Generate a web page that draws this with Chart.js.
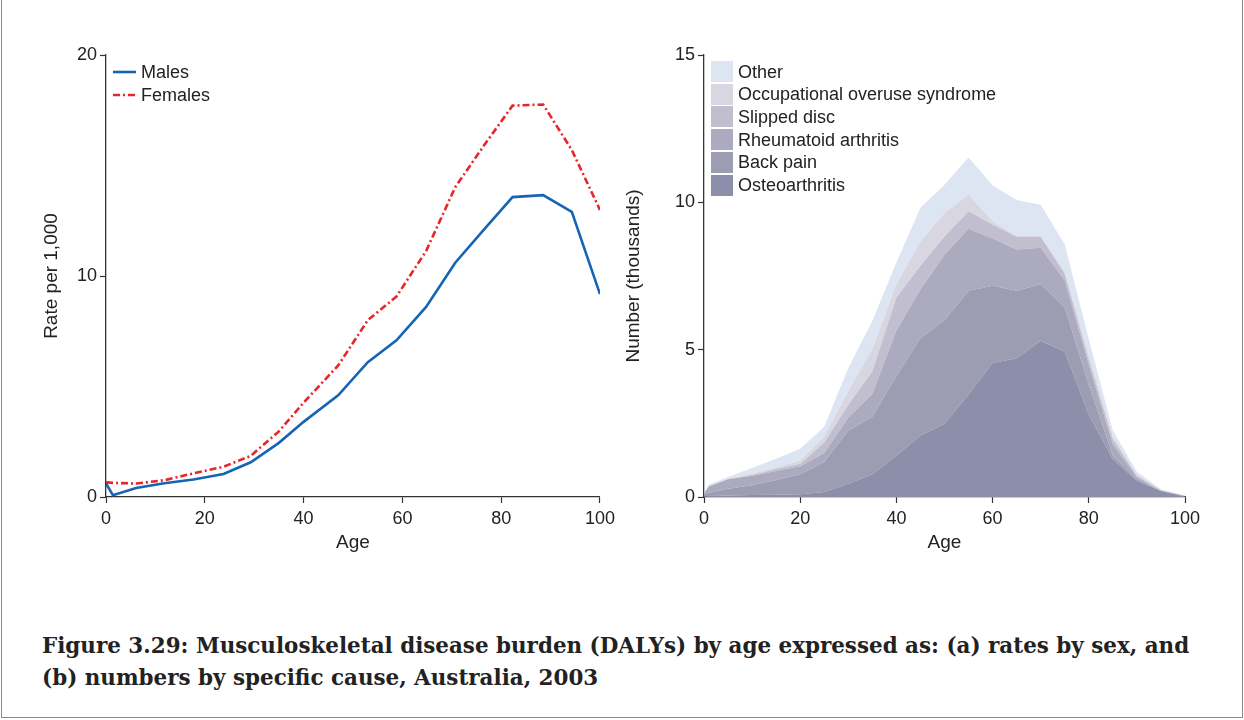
<!DOCTYPE html>
<html>
<head>
<meta charset="utf-8">
<script src="https://cdn.jsdelivr.net/npm/chart.js@4.4.1/dist/chart.umd.min.js"></script>
<style>
  body { margin: 0; background: #fff; }
  #page { position: relative; width: 1244px; height: 720px; overflow: hidden; font-family: "Liberation Sans", Arial, sans-serif; color: #222; }
  #frame { position: absolute; left: 1px; top: -2px; width: 1240px; height: 718px; border: 1px solid #8a8a8a; }
  canvas { position: absolute; top: 0; }
  .leg { position: absolute; font-size: 18px; line-height: 22px; color: #222; white-space: nowrap; }
  .sw { position: absolute; width: 22px; height: 21px; }
  #caption { position: absolute; left: 42px; top: 630px; font-family: "DejaVu Serif", "Liberation Serif", serif; font-weight: bold; font-size: 21px; line-height: 32px; color: #222; white-space: nowrap; }
</style>
</head>
<body>
<div id="page">
  <div id="frame"></div>
  <canvas id="rateChart" width="620" height="560" style="left:0"></canvas>
  <canvas id="causeChart" width="624" height="560" style="left:620px"></canvas>

  <svg style="position:absolute;left:112px;top:62px" width="26" height="40">
    <line x1="1" y1="10" x2="24" y2="10" stroke="#1664b4" stroke-width="2.6"/>
    <line x1="1" y1="33" x2="24" y2="33" stroke="#e8262a" stroke-width="2.6" stroke-dasharray="7,3,2,3"/>
  </svg>
  <div class="leg" style="left:141px;top:61px">Males</div>
  <div class="leg" style="left:141px;top:84px">Females</div>

  <div id="causeLegend"></div>

  <div id="caption"><span id="capLine1">Figure 3.29: Musculoskeletal disease burden (DALYs) by age expressed as: (a) rates by sex, and</span><br>(b) numbers by specific cause, Australia, 2003</div>
</div>
<script>
// (a) rates per 1,000 by sex
const rateAges = [0, 1.4, 6.1, 11.8, 17.7, 23.8, 29.3, 35, 40, 47, 53, 58.8, 64.8, 70.7, 76.5, 82.3, 88.5, 94.3, 100];
const males    = [0.61, 0.08, 0.41, 0.62, 0.79, 1.04, 1.57, 2.45, 3.4, 4.6, 6.1, 7.09, 8.6, 10.6, 12.1, 13.57, 13.66, 12.9, 9.18];
const females  = [0.66, 0.64, 0.61, 0.76, 1.07, 1.37, 1.86, 2.97, 4.27, 5.95, 8.0, 9.07, 11.13, 14.02, 15.9, 17.71, 17.76, 15.7, 12.99];

// (b) numbers (thousands) by cause, stacked
const causeAges      = [0, 1, 5, 10, 15, 20, 25, 30, 35, 40, 45, 50, 55, 60, 65, 70, 75, 80, 85, 90, 95, 100];
const osteoarthritis = [0.02, 0.03, 0.05, 0.07, 0.08, 0.09, 0.17, 0.45, 0.77, 1.40, 2.09, 2.49, 3.49, 4.55, 4.71, 5.30, 4.93, 2.80, 1.28, 0.55, 0.20, 0.02];
const backPain       = [0.08, 0.11, 0.23, 0.33, 0.50, 0.68, 1.02, 1.80, 1.95, 2.70, 3.31, 3.51, 3.51, 2.62, 2.29, 1.92, 1.49, 1.00, 0.12, 0.05, 0.01, 0.01];
const rheumatoid     = [0.02, 0.22, 0.32, 0.32, 0.30, 0.27, 0.30, 0.45, 0.78, 1.55, 1.65, 2.22, 2.10, 1.60, 1.40, 1.24, 0.93, 0.70, 0.39, 0.07, 0.01, 0.00];
const slippedDisc    = [0.01, 0.01, 0.01, 0.03, 0.07, 0.09, 0.36, 0.43, 0.77, 1.12, 0.80, 0.62, 0.60, 0.48, 0.43, 0.37, 0.23, 0.15, 0.16, 0.04, 0.01, 0.00];
const occupational   = [0.01, 0.01, 0.01, 0.05, 0.05, 0.11, 0.20, 0.47, 0.76, 0.45, 0.82, 0.80, 0.56, 0.12, 0.03, 0.03, 0.07, 0.15, 0.10, 0.05, 0.02, 0.01];
const other          = [0.01, 0.04, 0.06, 0.18, 0.30, 0.40, 0.33, 0.78, 0.94, 0.74, 1.15, 0.96, 1.26, 1.20, 1.22, 1.06, 0.92, 0.55, 0.21, 0.10, 0.01, 0.02];

const causeNames  = ['Other', 'Occupational overuse syndrome', 'Slipped disc', 'Rheumatoid arthritis', 'Back pain', 'Osteoarthritis'];
const causeValues = [other, occupational, slippedDisc, rheumatoid, backPain, osteoarthritis];
const causeColors = ['#dde4f2', '#d8d7e1', '#c1bfcf', '#acaabe', '#9c9cb2', '#8d8eaa'];

const tickFont = { family: '"Liberation Sans", Arial, sans-serif', size: 18 };
const titleFont = { family: '"Liberation Sans", Arial, sans-serif', size: 19 };
const axisColor = '#333';

function pts(xs, ys) {
  return xs.map((x, i) => ({ x: x, y: ys[i] }));
}

function xAxis() {
  return {
    type: 'linear', min: 0, max: 100,
    ticks: { stepSize: 20, color: '#222', font: tickFont, padding: 5, maxRotation: 0 },
    grid: { drawOnChartArea: false, drawTicks: true, tickLength: 6, tickColor: axisColor, tickWidth: 1.2 },
    border: { display: true, color: axisColor, width: 1.3 },
    title: { display: true, text: 'Age', color: '#222', font: titleFont, padding: { top: 0, bottom: 6 } },
    afterFit: s => { s.height = 63; }
  };
}

function yAxis(max, step, label, yWidth, titlePad) {
  return {
    min: 0, max: max,
    ticks: { stepSize: step, color: '#222', font: tickFont, padding: 3 },
    grid: { drawOnChartArea: false, drawTicks: true, tickLength: 6, tickColor: axisColor, tickWidth: 1.2 },
    border: { display: true, color: axisColor, width: 1.3 },
    title: { display: true, text: label, color: '#222', font: titleFont, padding: { top: titlePad, bottom: 0 } },
    afterFit: s => { s.width = yWidth; }
  };
}

new Chart(document.getElementById('rateChart').getContext('2d'), {
  type: 'line',
  data: {
    datasets: [{
      label: 'Males',
      data: pts(rateAges, males),
      borderColor: '#1664b4',
      borderWidth: 2.6,
      pointRadius: 0,
      fill: false
    }, {
      label: 'Females',
      data: pts(rateAges, females),
      borderColor: '#e8262a',
      borderWidth: 2.6,
      borderDash: [7, 3, 2, 3],
      pointRadius: 0,
      fill: false
    }]
  },
  options: {
    responsive: false,
    animation: false,
    layout: { padding: { left: 0, right: 18, top: 55, bottom: 0 } },
    plugins: { legend: { display: false }, tooltip: { enabled: false } },
    scales: { x: xAxis(), y: yAxis(20, 10, 'Rate per 1,000', 106, 40) }
  }
});

// bottom layer first so stacking builds upward
const stackDatasets = [];
for (let i = causeNames.length - 1; i >= 0; i--) {
  stackDatasets.push({
    label: causeNames[i],
    data: pts(causeAges, causeValues[i]),
    backgroundColor: causeColors[i],
    borderColor: causeColors[i],
    borderWidth: 0,
    pointRadius: 0,
    fill: stackDatasets.length === 0 ? 'origin' : '-1'
  });
}

new Chart(document.getElementById('causeChart').getContext('2d'), {
  type: 'line',
  data: { datasets: stackDatasets },
  options: {
    responsive: false,
    animation: false,
    layout: { padding: { left: 0, right: 59, top: 55, bottom: 0 } },
    plugins: { legend: { display: false }, tooltip: { enabled: false }, filler: { drawTime: 'beforeDatasetsDraw' } },
    scales: {
      x: xAxis(),
      y: Object.assign(yAxis(15, 5, 'Number (thousands)', 84, 2), { stacked: true })
    }
  }
});

// legend for (b)
const legendBox = document.getElementById('causeLegend');
causeNames.forEach((name, i) => {
  const top = 61 + i * 22.7;
  const sw = document.createElement('div');
  sw.className = 'sw';
  sw.style.left = '711px';
  sw.style.top = top + 'px';
  sw.style.background = causeColors[i];
  legendBox.appendChild(sw);
  const t = document.createElement('div');
  t.className = 'leg';
  t.style.left = '738px';
  t.style.top = (top - 0.5) + 'px';
  t.textContent = name;
  legendBox.appendChild(t);
});

// caption's first line spans 42..1190 in the figure
const cap = document.getElementById('caption');
const w = document.getElementById('capLine1').getBoundingClientRect().width;
cap.style.fontSize = (21 * 1148 / w).toFixed(2) + 'px';
</script>
</body>
</html>
